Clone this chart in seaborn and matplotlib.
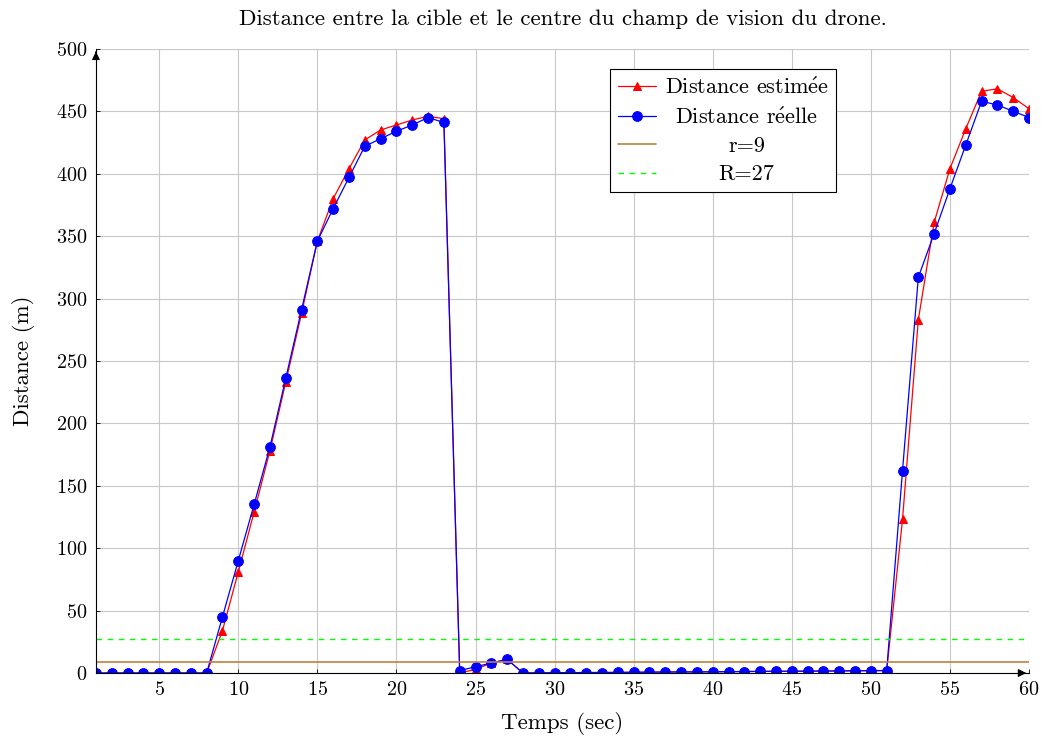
#!/usr/bin/env python3

import matplotlib
matplotlib.use("Agg")
import matplotlib.pyplot as plt
import pandas as pd
import seaborn as sns

sns.set_theme(style="whitegrid")
plt.rcParams["font.family"] = ["cmr10", "DejaVu Serif"]
plt.rcParams["mathtext.fontset"] = "cm"
plt.rcParams["axes.formatter.use_mathtext"] = True
plt.rcParams["text.color"] = "black"
plt.rcParams["axes.labelcolor"] = "black"

TITLE = "Distance entre la cible et le centre du champ de vision du drone."

time_sec = list(range(1, 61))

estimated = [
    0, 0, 0, 0, 0, 0, 0, 0, 34, 81,
    129, 178, 233, 288, 346, 380, 404, 427, 435, 439,
    443, 446, 444, 0, 3, 8, 11, 0, 0.1, 0.2,
    0.3, 0.4, 0.4, 0.5, 0.6, 0.7, 0.8, 0.9, 0.9, 1.0,
    1.1, 1.2, 1.3, 1.4, 1.4, 1.5, 1.6, 1.7, 1.8, 1.9,
    2.0, 123, 283, 361, 404, 436, 466, 468, 461, 452,
]

real = [
    0, 0, 0, 0, 0, 0, 0, 0, 45, 90,
    135, 181, 236, 291, 346, 372, 397, 422, 428, 434,
    439, 445, 441, 2, 5, 8, 11, 0, 0.1, 0.2,
    0.3, 0.4, 0.4, 0.5, 0.6, 0.7, 0.8, 0.9, 0.9, 1.0,
    1.1, 1.2, 1.3, 1.4, 1.4, 1.5, 1.6, 1.7, 1.8, 1.9,
    2.0, 162, 317, 352, 388, 423, 458, 455, 450, 445,
]

r_small = 9
r_large = 27

# cmr10 has no precomposed é, build it with a mathtext accent
LABEL_EST = r"Distance estim$\mathrm{\acute{e}}$e"
LABEL_REAL = r"Distance r$\mathrm{\acute{e}}$elle"


def center_legend_texts(fig, leg):
    """
    pgfplots centres legend entries, matplotlib left-aligns them.
    Shift each text by half the difference to the widest one.
    """

    fig.canvas.draw()
    renderer = fig.canvas.get_renderer()
    texts = leg.get_texts()
    widths = [t.get_window_extent(renderer).width for t in texts]
    widest = max(widths)

    for text, width in zip(texts, widths):
        text.set_position(((widest - width) / 2, 0))


def main():
    df = pd.DataFrame({
        "t": time_sec,
        "estimated": estimated,
        "real": real,
    })

    fig = plt.figure(figsize=(10.43, 7.40), dpi=100)
    ax = fig.add_axes([0.092, 0.0905, 0.8946, 0.8435])

    sns.lineplot(
        data=df, x="t", y="estimated", ax=ax,
        color="red", marker="^", markersize=6, linewidth=0.9,
        markeredgecolor="red", label=LABEL_EST,
    )
    sns.lineplot(
        data=df, x="t", y="real", ax=ax,
        color="blue", marker="o", markersize=7, linewidth=0.9,
        markeredgecolor="blue", label=LABEL_REAL,
    )
    ax.axhline(r_small, color="#bf8040", linewidth=1.2, label=f"r={r_small}")
    ax.axhline(r_large, color="#00ff00", linewidth=1.0, linestyle=(0, (4, 4)),
               label=f"R={r_large}")

    ax.set_xlim(1, 60)
    ax.set_ylim(0, 500)
    ax.set_xticks(range(5, 61, 5))
    ax.set_yticks(range(0, 501, 50))

    ax.grid(True, color="#c8c8c8", linewidth=0.8)
    ax.set_facecolor("white")
    for side in ("top", "right"):
        ax.spines[side].set_visible(False)
    for side in ("left", "bottom"):
        ax.spines[side].set_color("black")
        ax.spines[side].set_linewidth(0.8)

    ax.tick_params(axis="both", direction="in", length=3, width=0.6,
                   colors="black", labelsize=14.5, pad=6)
    ax.tick_params(axis="x", bottom=True)
    ax.tick_params(axis="y", left=True)

    # arrow tips on the axis lines, pgfplots style
    ax.annotate("", xy=(1.0, 0), xytext=(0.99, 0), xycoords="axes fraction",
                arrowprops=dict(arrowstyle="-|>", color="black", lw=0.8))
    ax.annotate("", xy=(0, 1.0), xytext=(0, 0.99), xycoords="axes fraction",
                arrowprops=dict(arrowstyle="-|>", color="black", lw=0.8))

    ax.set_title(TITLE, fontsize=16.5, pad=17, color="black")
    ax.set_xlabel("Temps (sec)", fontsize=16.5, labelpad=9)
    ax.set_ylabel("Distance (m)", fontsize=16.5, labelpad=15)

    leg = ax.legend(
        loc="upper left", bbox_to_anchor=(0.551, 0.968),
        fontsize=16, frameon=True, fancybox=False, framealpha=1,
        edgecolor="black", borderpad=0.35, labelspacing=0.4,
        handlelength=1.7, handletextpad=0.4, borderaxespad=0,
    )
    leg.get_frame().set_linewidth(0.8)
    for text in leg.get_texts():
        text.set_color("black")
    center_legend_texts(fig, leg)

    fig.savefig("out.png", dpi=100)
    plt.close(fig)


if __name__ == "__main__":
    main()
